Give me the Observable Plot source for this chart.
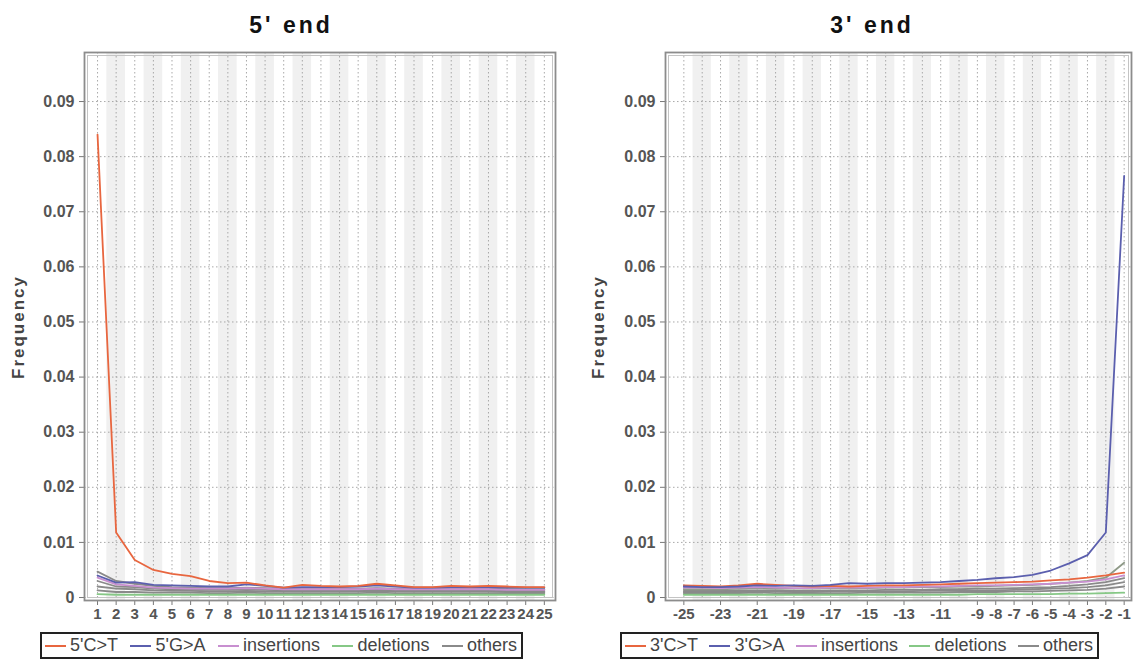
<!DOCTYPE html>
<html><head><meta charset="utf-8">
<script src="https://cdn.jsdelivr.net/npm/d3@7"></script>
<script src="https://cdn.jsdelivr.net/npm/@observablehq/plot@0.6"></script>
<style>
body{margin:0;background:#fff;font-family:"Liberation Sans",Arial,sans-serif;}
#wrap{position:relative;width:1134px;height:660px;overflow:hidden;background:#fff;}
.title{position:absolute;top:12px;font-weight:bold;font-size:23px;letter-spacing:3px;color:#111;transform:translateX(-50%);white-space:nowrap;}
.ylab{position:absolute;font-weight:bold;font-size:17px;letter-spacing:2px;color:#444;transform:translate(-50%,-50%) rotate(-90deg);white-space:nowrap;}
.legend{position:absolute;top:632px;height:27px;border:2px solid #222;display:flex;align-items:center;justify-content:space-between;font-size:18px;color:#444;box-sizing:border-box;padding:0 4px 0 3px;white-space:nowrap;}
.item{display:flex;align-items:center;}
.sw{display:inline-block;width:21px;height:2px;margin-right:4px;}
.plot{position:absolute;top:0;}
</style></head>
<body>
<div id="wrap"></div>
<script>
// ---------- data ----------
const pos5 = d3.range(1, 26);
const pos3 = d3.range(-25, 0);
const ticks5 = pos5;
const ticks3 = [-25, -23, -21, -19, -17, -15, -13, -11, -9, -8, -7, -6, -5, -4, -3, -2, -1];
const yTicks = [0, 0.01, 0.02, 0.03, 0.04, 0.05, 0.06, 0.07, 0.08, 0.09];

const ct5 = [0.0840,0.0118,0.0068,0.0050,0.0043,0.0039,0.0030,0.0026,0.0027,0.0022,0.0018,0.0023,0.0021,0.0020,0.0021,0.0025,0.0022,0.0019,0.0019,0.0021,0.0020,0.0021,0.0020,0.0019,0.0019];
const ga5 = [0.0040,0.0027,0.0028,0.0023,0.0022,0.0021,0.0020,0.0020,0.0024,0.0021,0.0018,0.0019,0.0019,0.0019,0.0020,0.0022,0.0020,0.0018,0.0018,0.0019,0.0019,0.0019,0.0018,0.0018,0.0018];
const ins5 = [0.0036,0.0024,0.0021,0.0018,0.0017,0.0016,0.0016,0.0016,0.0017,0.0016,0.0015,0.0015,0.0015,0.0015,0.0015,0.0016,0.0015,0.0015,0.0015,0.0015,0.0015,0.0015,0.0014,0.0014,0.0014];
const del5 = [0.0006,0.0005,0.0005,0.0005,0.0005,0.0005,0.0005,0.0005,0.0005,0.0005,0.0005,0.0005,0.0005,0.0005,0.0005,0.0005,0.0005,0.0005,0.0005,0.0005,0.0005,0.0005,0.0005,0.0005,0.0005];
const oth5a = [0.0047,0.0030,0.0025,0.0021,0.0019,0.0018,0.0017,0.0017,0.0018,0.0017,0.0016,0.0016,0.0016,0.0016,0.0016,0.0017,0.0016,0.0016,0.0015,0.0016,0.0016,0.0016,0.0015,0.0015,0.0015];
const oth5b = [0.0030,0.0020,0.0019,0.0016,0.0015,0.0014,0.0014,0.0014,0.0015,0.0014,0.0013,0.0013,0.0013,0.0013,0.0013,0.0014,0.0013,0.0013,0.0013,0.0013,0.0013,0.0013,0.0012,0.0012,0.0012];
const oth5c = [0.0020,0.0016,0.0015,0.0013,0.0012,0.0012,0.0011,0.0011,0.0012,0.0011,0.0011,0.0011,0.0011,0.0011,0.0011,0.0012,0.0011,0.0011,0.0011,0.0011,0.0011,0.0011,0.0010,0.0010,0.0010];
const oth5d = [0.0013,0.0010,0.0010,0.0009,0.0009,0.0009,0.0008,0.0008,0.0009,0.0008,0.0008,0.0008,0.0008,0.0008,0.0008,0.0009,0.0008,0.0008,0.0008,0.0008,0.0008,0.0008,0.0008,0.0008,0.0008];

const ga3 = [0.0020,0.0019,0.0019,0.0020,0.0022,0.0021,0.0022,0.0021,0.0023,0.0026,0.0025,0.0026,0.0026,0.0027,0.0028,0.0030,0.0032,0.0035,0.0037,0.0041,0.0049,0.0062,0.0077,0.0118,0.0765];
const ct3 = [0.0022,0.0021,0.0020,0.0022,0.0025,0.0023,0.0021,0.0020,0.0021,0.0020,0.0021,0.0022,0.0022,0.0023,0.0024,0.0025,0.0026,0.0027,0.0028,0.0029,0.0031,0.0033,0.0036,0.0040,0.0045];
const ins3 = [0.0018,0.0018,0.0017,0.0018,0.0019,0.0018,0.0017,0.0017,0.0018,0.0018,0.0018,0.0019,0.0019,0.0020,0.0020,0.0021,0.0022,0.0022,0.0023,0.0024,0.0025,0.0027,0.0029,0.0033,0.0040];
const del3 = [0.0005,0.0005,0.0005,0.0005,0.0005,0.0005,0.0005,0.0005,0.0005,0.0005,0.0005,0.0005,0.0005,0.0005,0.0005,0.0005,0.0006,0.0006,0.0006,0.0006,0.0006,0.0007,0.0007,0.0008,0.0009];
const oth3a = [0.0015,0.0015,0.0015,0.0016,0.0017,0.0016,0.0016,0.0016,0.0017,0.0017,0.0017,0.0018,0.0018,0.0019,0.0019,0.0020,0.0020,0.0021,0.0022,0.0023,0.0025,0.0027,0.0030,0.0036,0.0063];
const oth3b = [0.0012,0.0012,0.0012,0.0013,0.0013,0.0013,0.0012,0.0012,0.0013,0.0013,0.0013,0.0014,0.0014,0.0014,0.0015,0.0015,0.0016,0.0016,0.0017,0.0018,0.0019,0.0021,0.0024,0.0028,0.0035];
const oth3c = [0.0010,0.0010,0.0010,0.0010,0.0011,0.0011,0.0010,0.0010,0.0011,0.0011,0.0011,0.0011,0.0011,0.0012,0.0012,0.0012,0.0013,0.0013,0.0014,0.0015,0.0016,0.0017,0.0019,0.0022,0.0028];
const oth3d = [0.0008,0.0008,0.0008,0.0008,0.0009,0.0008,0.0008,0.0008,0.0008,0.0008,0.0009,0.0009,0.0009,0.0009,0.0009,0.0010,0.0010,0.0010,0.0011,0.0011,0.0012,0.0013,0.0014,0.0016,0.0020];

const colCT = "#e8663f", colGA = "#5b5fae", colIns = "#c88fd0", colDel = "#86c886", colOth = "#8a8a8a";
const yDomain = [-0.00054, 0.0989];

// ---------- drawing ----------
function rows(positions, values) { return values.map((v, i) => ({x: positions[i], y: v})); }

function panel(positions, ticks, xDomain, ml, mr, series) {
  const lines = series.map(s => Plot.line(rows(positions, s.values), {x: "x", y: "y", stroke: s.color, strokeWidth: 1.8}));
  return Plot.plot({
    width: 567, height: 628,
    marginTop: 52, marginBottom: 28, marginLeft: ml, marginRight: mr,
    x: {domain: xDomain},
    y: {domain: yDomain},
    style: {fontFamily: "'Liberation Sans', Arial, sans-serif", fontSize: "15px", fontWeight: "bold", color: "#555", background: "#fff", overflow: "visible"},
    marks: [
      Plot.rect(positions.filter(d => d % 2 === 0), {x1: d => d - 0.5, x2: d => d + 0.5, fill: "#f0f0f0"}),
      Plot.gridX(positions, {stroke: "#a0a0a0", strokeOpacity: 0.9, strokeDasharray: "1.5,2.5"}),
      Plot.gridY(yTicks, {stroke: "#a0a0a0", strokeOpacity: 0.9, strokeDasharray: "1.5,2.5"}),
      Plot.axisY(yTicks, {tickFormat: d => d === 0 ? "0" : d.toFixed(2), tickSize: 5, tickPadding: 5, label: null, fontSize: 16, stroke: "#777"}),
      Plot.axisX(ticks, {tickFormat: d => String(d), tickSize: 5, tickPadding: 3, label: null, fontSize: 15, stroke: "#777"}),
      ...lines,
      Plot.frame({inset: 3, stroke: "#c4c4c4", strokeWidth: 1}),
      Plot.frame({stroke: "#8c8c8c", strokeWidth: 1.8})
    ]
  });
}

const wrap = document.getElementById("wrap");

const left = panel(pos5, ticks5, [0.3, 25.6], 84, 12, [
  {values: oth5d, color: colOth}, {values: oth5c, color: colOth}, {values: oth5b, color: colOth}, {values: oth5a, color: colOth},
  {values: del5, color: colDel}, {values: ins5, color: colIns},
  {values: ga5, color: colGA}, {values: ct5, color: colCT}
]);
left.classList.add("plot"); left.style.left = "0px";
wrap.appendChild(left);

const right = panel(pos3, ticks3, [-26.0, -0.6], 98, 3, [
  {values: oth3d, color: colOth}, {values: oth3c, color: colOth}, {values: oth3b, color: colOth}, {values: oth3a, color: "#8f9a88"},
  {values: del3, color: colDel}, {values: ins3, color: colIns},
  {values: ct3, color: colCT}, {values: ga3, color: colGA}
]);
right.classList.add("plot"); right.style.left = "567px";
wrap.appendChild(right);

function addText(cls, text, x, y) {
  const d = document.createElement("div");
  d.className = cls; d.textContent = text;
  d.style.left = x + "px"; d.style.top = y + "px";
  wrap.appendChild(d);
}
addText("title", "5' end", 291, 12);
addText("title", "3' end", 872, 12);
addText("ylab", "Frequency", 19, 327);
addText("ylab", "Frequency", 599, 327);

function legend(x, w, labels) {
  const colors = [colCT, colGA, colIns, colDel, colOth];
  const box = document.createElement("div");
  box.className = "legend"; box.style.left = x + "px"; box.style.width = w + "px";
  labels.forEach((t, i) => {
    const it = document.createElement("span"); it.className = "item";
    const sw = document.createElement("span"); sw.className = "sw"; sw.style.background = colors[i];
    it.appendChild(sw); it.appendChild(document.createTextNode(t));
    box.appendChild(it);
  });
  wrap.appendChild(box);
}
legend(40, 483, ["5'C>T", "5'G>A", "insertions", "deletions", "others"]);
legend(620, 479, ["3'C>T", "3'G>A", "insertions", "deletions", "others"]);
</script>
</body></html>
